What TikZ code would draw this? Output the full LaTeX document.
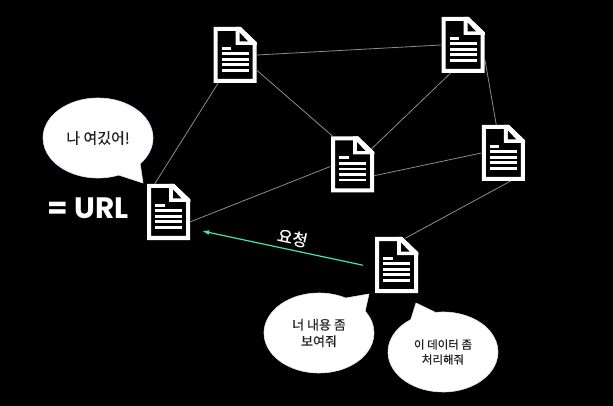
\documentclass[tikz,border=0pt]{standalone}
\usepackage{fontspec}
\setmainfont[FakeBold=0.5]{Noto Sans CJK KR}
\newfontfamily\urlfont{Poppins}
\usetikzlibrary{
  arrows.meta,
  arrows,
  shapes.callouts
}
\usepackage{xcolor}
\definecolor{reqgreen}{HTML}{3DE8A8}
\definecolor{linkgray}{HTML}{8C8C8C}
\definecolor{bubbleedge}{HTML}{DCE4F4}
\definecolor{bubbletext}{HTML}{222222}

\tikzset{
  docicon/.style = {
    rectangle, inner sep = 0pt, minimum width = 43.5pt, minimum height = 56pt,
    path picture = {
      \begin{scope}[shift = {(path picture bounding box.center)}]
        \draw[white, line width = 4pt, fill = black, line join = miter]
          (-19.5,-26) -- (5,-26) -- (19.5,-12) -- (19.5,26) -- (-19.5,26) -- cycle;
        \fill[white] (0.5,-28) -- (5.5,-28) -- (21.75,-12.5) -- (21.75,-10) -- (0.5,-10) -- cycle;
        \fill[black] (4.5,-22.5) -- (13,-13.5) -- (4.5,-13.5) -- cycle;
        \draw[white, line width = 2.8pt]
          (-13.5,-6.8) -- (-4,-6.8)
          (-13.5,-1.2) -- (13.5,-1.2)
          (-13.5,4.5) -- (13.5,4.5)
          (-13.5,9.8) -- (13.5,9.8)
          (-13.5,15.5) -- (13.5,15.5);
      \end{scope}
    }
  },
  link/.style = {draw = linkgray, line width = 0.8pt},
  bubble/.style = {
    shape = ellipse callout, fill = white, draw = bubbleedge, line width = 0.6pt,
    text = bubbletext, inner sep = 0pt, align = center,
    minimum width = 110pt, minimum height = 80pt, callout pointer arc = 28
  }
}

\begin{document}
\begin{tikzpicture}[x = 1pt, y = -1pt]
  \tikzset{>={Latex[length=7pt, width=5pt]}}

  \fill[black] (0,0) rectangle (613,406);
  \useasboundingbox (0,0) rectangle (613,406);

  \node[docicon] (doca) at (235,55) {};
  \node[docicon] (docb) at (463,45) {};
  \node[docicon] (docc) at (352.5,164.5) {};
  \node[docicon] (docd) at (503.3,153) {};
  \node[docicon] (doce) at (168.5,212) {};
  \node[docicon] (docf) at (396.5,265) {};

  \draw[link] (doce.116) -- (doca.239);
  \draw[link] (doca.east) -- (docb.west);
  \draw[link] (doca.-35) -- (docc.125);
  \draw[link, shorten >= -4pt] (docb.-114) -- (docc.40);
  \draw[link] (docb.-34) -- (docd.104);
  \draw[link] (docc.-27) -- (docd.west);
  \draw[link] (docc.-175) -- (doce.-24);
  \draw[link, shorten >= -3pt] (docd.-76) -- (docf.68);

  \draw[->, reqgreen, line width = 1.2pt, shorten <= 12pt, shorten >= 12pt] (docf.187) -- (doce.-37);
  \node[white, rotate = -12, font = \fontsize{16.5}{16.5}\selectfont] (reqlabel) at (292.5,238) {요청};

  \node[bubble, callout absolute pointer = {(143,183)}, font = \fontsize{15}{16}\selectfont] (bubblea) at (98,138) {나 여깄어!};
  \node[bubble, callout absolute pointer = {(369,294)}, font = \fontsize{13}{16.5}\selectfont] (bubbleb) at (319,333) {너 내용 좀\\보여줘};
  \node[bubble, callout absolute pointer = {(416,303)}, font = \fontsize{11.5}{15}\selectfont] (bubblec) at (443,352) {이 데이터 좀\\처리해줘};

  \node[white, font = \urlfont\bfseries\fontsize{29.5}{29.5}\selectfont] (urllabel) at (88,208) {= URL};
\end{tikzpicture}
\end{document}
